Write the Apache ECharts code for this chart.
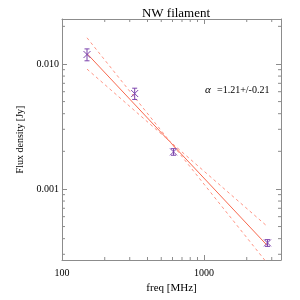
<!DOCTYPE html>
<html><head><meta charset="utf-8">
<script src="https://cdn.jsdelivr.net/npm/echarts@6/dist/echarts.min.js"></script>
<style>html,body{margin:0;padding:0;background:#fff}#c{width:300px;height:300px}</style>
</head><body><div id="c"></div>
<script>
// ---- data ----
const freq = [150, 325, 610, 2800];                 // MHz
const flux = [0.0119, 0.0058, 0.00198, 0.00037];     // Jy
const fluxErr = [0.0013, 0.0006, 0.00012, 0.000023];
const fitX = [150, 2800];
const fitBest = [0.0121, 0.000351];
const fitSteep = [0.0162, 0.000253];
const fitShallow = [0.0091, 0.0005];
const xMin = 100, xMax = 3486;
const yMin = 0.00027, yMax = 0.0229;
const xMinorTicks = [200, 300, 400, 500, 600, 700, 800, 900, 2000, 3000];
const yMinorTicks = [0.0003, 0.0004, 0.0005, 0.0006, 0.0007, 0.0008, 0.0009,
  0.002, 0.003, 0.004, 0.005, 0.006, 0.007, 0.008, 0.009, 0.02];
const titleText = 'NW filament';
const alphaLabel = '=1.21+/-0.21';

const FONT = '"Liberation Serif", "DejaVu Serif", serif';
const AXC = '#8c8c8c';
const PURPLE = '#7d45ad';

function isDecade(v) { const l = Math.log10(v); return Math.abs(l - Math.round(l)) < 1e-6; }

const baseAxis = {
  type: 'log', logBase: 10,
  axisLine: { show: true, lineStyle: { color: AXC, width: 1 } },
  axisTick: { show: true, inside: true, length: 5, lineStyle: { color: AXC } },
  splitLine: { show: false },
  minorTick: { show: false }
};

const chart = echarts.init(document.getElementById('c'), null, { renderer: 'canvas' });
chart.setOption({
  animation: false,
  backgroundColor: '#fff',
  title: { text: titleText, left: 171, top: 2, textAlign: 'center',
    textStyle: { fontFamily: FONT, fontSize: 13, fontWeight: 'normal', color: '#000' } },
  grid: { left: 62, right: 19, top: 19, bottom: 40 },
  xAxis: [
    Object.assign({}, baseAxis, { min: xMin, max: xMax, position: 'bottom',
      name: 'freq [MHz]', nameLocation: 'middle', nameGap: 22,
      nameTextStyle: { fontFamily: FONT, fontSize: 11, color: '#000' },
      axisLabel: { fontFamily: FONT, fontSize: 10, color: '#000', margin: 8,
        formatter: v => isDecade(v) ? String(Math.round(v)) : '' } }),
    Object.assign({}, baseAxis, { min: xMin, max: xMax, position: 'top', axisLabel: { show: false } })
  ],
  yAxis: [
    Object.assign({}, baseAxis, { min: yMin, max: yMax, position: 'left',
      name: 'Flux density [Jy]', nameLocation: 'middle', nameGap: 32,
      nameTextStyle: { fontFamily: FONT, fontSize: 10, color: '#000' },
      axisLabel: { fontFamily: FONT, fontSize: 10, color: '#000', margin: 3,
        formatter: v => isDecade(v) ? v.toFixed(3) : '' } }),
    Object.assign({}, baseAxis, { min: yMin, max: yMax, position: 'right', axisLabel: { show: false } })
  ],
  graphic: [
    { type: 'text', left: 205, top: 85, style: { text: 'α', fontFamily: FONT, fontStyle: 'italic', fontSize: 11, fill: '#000' } },
    { type: 'text', left: 217, top: 85, style: { text: alphaLabel, fontFamily: FONT, fontSize: 10, fill: '#000' } }
  ],
  series: [
    { type: 'line', data: fitX.map((x, i) => [x, fitBest[i]]), symbol: 'none',
      lineStyle: { color: '#f8684e', width: 1 }, z: 2 },
    { type: 'line', data: fitX.map((x, i) => [x, fitSteep[i]]), symbol: 'none',
      lineStyle: { color: '#ff9484', width: 1, type: [3, 3] }, z: 2 },
    { type: 'line', data: fitX.map((x, i) => [x, fitShallow[i]]), symbol: 'none',
      lineStyle: { color: '#ff9484', width: 1, type: [3, 3] }, z: 2 },
    { type: 'custom', z: 5,
      data: freq.map((f, i) => [f, flux[i], fluxErr[i]]),
      renderItem: function (params, api) {
        const x = api.value(0), y = api.value(1), e = api.value(2);
        const p = api.coord([x, y]);
        const t = api.coord([x, y + e]);
        const b = api.coord([x, y - e]);
        const s = { stroke: PURPLE, lineWidth: 1, fill: null };
        const cw = 2.5, m = 3.5;
        return { type: 'group', children: [
          { type: 'line', shape: { x1: p[0], y1: t[1], x2: p[0], y2: b[1] }, style: s },
          { type: 'line', shape: { x1: p[0] - cw, y1: t[1], x2: p[0] + cw, y2: t[1] }, style: s },
          { type: 'line', shape: { x1: p[0] - cw, y1: b[1], x2: p[0] + cw, y2: b[1] }, style: s },
          { type: 'line', shape: { x1: p[0] - m, y1: p[1] - m, x2: p[0] + m, y2: p[1] + m }, style: s },
          { type: 'line', shape: { x1: p[0] - m, y1: p[1] + m, x2: p[0] + m, y2: p[1] - m }, style: s }
        ] };
      }
    },
    { type: 'custom', z: 3,
      data: xMinorTicks.map(v => [v, yMin]),
      renderItem: function (params, api) {
        const cs = params.coordSys;
        const x = api.coord([api.value(0), yMin])[0];
        const s = { stroke: AXC, lineWidth: 1 };
        return { type: 'group', children: [
          { type: 'line', shape: { x1: x, y1: cs.y + cs.height, x2: x, y2: cs.y + cs.height - 3 }, style: s },
          { type: 'line', shape: { x1: x, y1: cs.y, x2: x, y2: cs.y + 3 }, style: s }
        ] };
      }
    },
    { type: 'custom', z: 3,
      data: yMinorTicks.map(v => [xMin, v]),
      renderItem: function (params, api) {
        const cs = params.coordSys;
        const y = api.coord([xMin, api.value(1)])[1];
        const s = { stroke: AXC, lineWidth: 1 };
        return { type: 'group', children: [
          { type: 'line', shape: { x1: cs.x, y1: y, x2: cs.x + 3, y2: y }, style: s },
          { type: 'line', shape: { x1: cs.x + cs.width, y1: y, x2: cs.x + cs.width - 3, y2: y }, style: s }
        ] };
      }
    }
  ]
});
</script></body></html>
